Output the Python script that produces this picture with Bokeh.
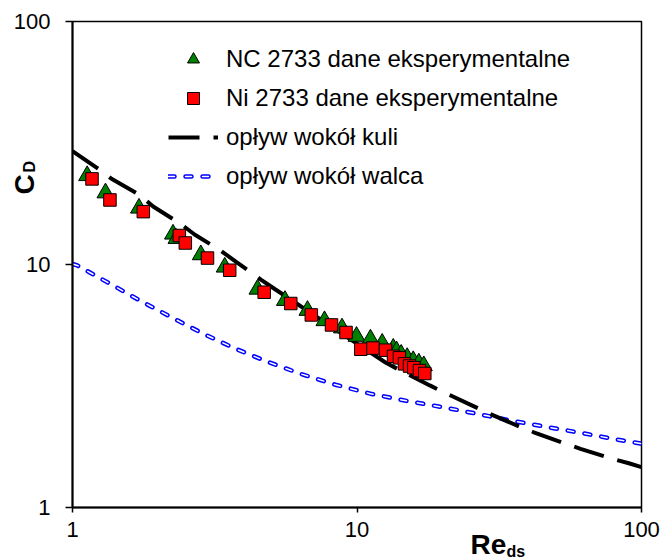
from bokeh.plotting import figure
from bokeh.models import (Range1d, FixedTicker, NumeralTickFormatter, Legend,
                          LegendItem, Title)
from bokeh.embed import file_html
from bokeh.resources import INLINE

# ---- data ----
re_nc = [1.126, 1.306, 1.713, 2.256, 2.321, 2.825, 3.428, 4.470, 5.583, 6.699,
         7.687, 8.859, 9.96, 11.15, 12.26, 13.41, 13.77, 14.30, 15.01, 15.76,
         16.49, 17.17]
cd_nc = [23.2, 19.7, 17.05, 13.33, 12.79, 10.96, 9.75, 7.91, 7.11, 6.47,
         5.87, 5.48, 5.06, 4.93, 4.74, 4.52, 4.41, 4.27, 4.14, 4.02,
         3.93, 3.83]

re_ni = [1.171, 1.354, 1.774, 2.374, 2.492, 2.982, 3.569, 4.718, 5.851, 6.909,
         8.136, 9.15, 10.31, 11.38, 12.60, 13.44, 14.10, 14.69, 15.30, 15.84,
         16.58, 17.31]
cd_ni = [22.5, 18.43, 16.50, 13.16, 12.26, 10.63, 9.47, 7.69, 6.91, 6.20,
         5.64, 5.25, 4.48, 4.53, 4.44, 4.19, 4.13, 3.90, 3.82, 3.76,
         3.66, 3.56]

re_kula = [1.0, 1.247, 1.371, 1.734, 1.921, 2.397, 2.685, 3.313, 3.771, 4.606,
           5.17, 7.0, 11.15, 12.60, 14.22, 18.03, 20.19, 25.88, 29.06, 37.35,
           41.82, 54.07, 61.04, 78.89, 90.25, 100.0]
cd_kula = [29.3, 24.53, 22.53, 19.23, 17.33, 14.71, 13.29, 11.42, 10.22, 8.65,
           7.89, 6.23, 4.34, 3.95, 3.66, 3.18, 2.98, 2.60, 2.44, 2.15,
           2.04, 1.83, 1.744, 1.587, 1.521, 1.465]

re_walec = [1.0, 1.039, 1.324, 1.724, 2.223, 2.880, 3.741, 4.897, 6.42, 8.40,
            11.15, 15.09, 19.93, 26.46, 35.40, 47.0, 62.4, 82.8, 100.0]
cd_walec = [10.05, 9.91, 8.46, 7.11, 6.07, 5.19, 4.50, 3.96, 3.53, 3.20,
            2.94, 2.74, 2.59, 2.43, 2.27, 2.14, 2.02, 1.90, 1.83]

y_ticks = [1, 10, 100]
x_ticks = [1, 10, 100]

labels = ["NC 2733 dane eksperymentalne", "Ni 2733 dane eksperymentalne",
          "opływ wokół kuli", "opływ wokół walca"]
y_title, y_sub = "C", "D"
x_title, x_sub = "Re", "ds"

FONT = "Liberation Sans"

p = figure(width=665, height=559, x_axis_type="log", y_axis_type="log",
           x_range=Range1d(1, 100), y_range=Range1d(1, 100),
           output_backend="svg", toolbar_location=None,
           min_border_left=72, min_border_right=24, min_border_top=21,
           min_border_bottom=52)

p.grid.visible = False
p.background_fill_color = "white"
p.border_fill_color = "white"
p.outline_line_color = "black"
p.outline_line_width = 1.5

for ax, ticks, tout in ((p.xaxis[0], x_ticks, 5), (p.yaxis[0], y_ticks, 7)):
    ax.ticker = FixedTicker(ticks=ticks, minor_ticks=[])
    ax.formatter = NumeralTickFormatter(format="0")
    ax.major_tick_out = tout
    ax.major_tick_in = 0
    ax.minor_tick_out = 0
    ax.minor_tick_in = 0
    ax.axis_line_width = 2
    ax.axis_line_color = "black"
    ax.major_tick_line_color = "black"
    ax.major_tick_line_width = 1.5
    ax.major_label_text_font = FONT
    ax.major_label_text_font_size = "22px"
    ax.major_label_text_color = "black"
p.xaxis.major_label_standoff = 9
p.yaxis.major_label_standoff = 15

# curves
walec_out = p.line(re_walec, cd_walec, line_color="#0000ff", line_width=4.5,
                   line_dash="6 11", line_cap="round")
walec_in = p.line(re_walec, cd_walec, line_color="white", line_width=1.5,
                  line_dash="6 11", line_cap="round")
kula = p.line(re_kula, cd_kula, line_color="black", line_width=4,
              line_dash="31 14")

tri = p.scatter(re_nc, cd_nc, marker="triangle", size=17,
                fill_color="#008000", line_color="black", line_width=1)
sq = p.scatter(re_ni, cd_ni, marker="square", size=12.5,
               fill_color="#ff0000", line_color="black", line_width=1)

legend = Legend(items=[
    LegendItem(label=labels[0], renderers=[tri]),
    LegendItem(label=labels[1], renderers=[sq]),
    LegendItem(label=labels[2], renderers=[kula]),
    LegendItem(label=labels[3], renderers=[walec_out, walec_in]),
], location=(96, 316))
legend.glyph_width = 50
legend.glyph_height = 30
legend.label_height = 30
legend.spacing = 9
legend.padding = 0
legend.margin = 0
legend.label_standoff = 8
legend.label_text_font = FONT
legend.label_text_font_size = "24px"
legend.label_text_color = "black"
legend.border_line_alpha = 0
legend.background_fill_alpha = 0
p.add_layout(legend, "center")

# axis titles (side-panel titles, pulled in with negative standoff)
def ttl(text, size, align_v, offset, standoff):
    return Title(text=text, text_font=FONT, text_font_style="bold",
                 text_font_size=size, text_color="black", align="left",
                 vertical_align=align_v, offset=offset, standoff=standoff)

p.add_layout(ttl(y_title, "28px", "bottom", 313, -59.8), "left")
p.add_layout(ttl(y_sub, "16px", "bottom", 335, -55.2), "left")
p.add_layout(ttl(x_title, "28px", "top", 398, -21.8), "below")
p.add_layout(ttl(x_sub, "16px", "bottom", 434, -19.2), "below")

open("out.html", "w").write(file_html(p, INLINE))
